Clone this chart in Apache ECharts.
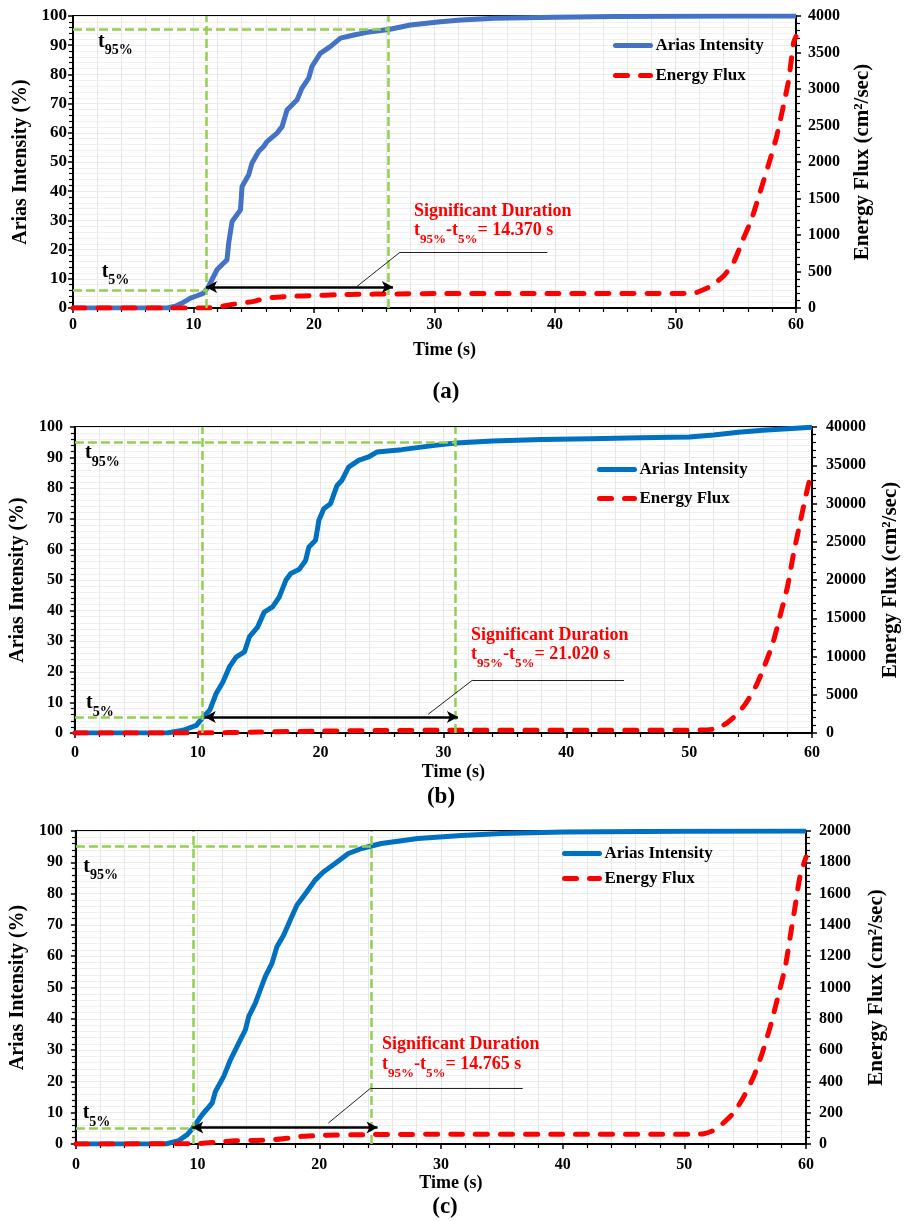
<!DOCTYPE html>
<html><head><meta charset="utf-8">
<script src="https://cdn.jsdelivr.net/npm/echarts@6/dist/echarts.min.js"></script>
<style>html,body{margin:0;padding:0;background:#fff}#c{width:909px;height:1221px}</style>
</head><body><div id="c"></div>
<script>
// ---------- DATA ----------
// Panel (a)
const tA  = [0, 7.8, 8.5, 9.05, 9.75, 10.3, 10.84, 11.25, 11.95, 12.4, 12.78, 12.92, 13.2, 13.9, 14.03, 14.58, 14.85, 15.4, 15.82, 16.1, 16.93, 17.35, 17.76, 18.6, 19.0, 19.56, 19.83, 20.52, 21.35, 22.2, 23.3, 24.4, 26.2, 28.0, 30.5, 32.2, 35, 40, 45, 50, 55, 60];
const aiA = [0, 0, 0.6, 1.7, 3.4, 4.2, 5.1, 7.4, 13.1, 15.0, 16.5, 22.2, 29.6, 33.6, 41.6, 45.6, 49.6, 53.6, 55.3, 57.0, 59.9, 62.1, 67.8, 71.3, 75.3, 78.7, 82.7, 87.2, 89.5, 92.4, 93.5, 94.4, 95.4, 96.9, 98.0, 98.6, 99.2, 99.6, 99.8, 99.9, 100, 100];
const tEA = [0, 11.0, 12.0, 13.07, 15.0, 16.1, 18.1, 20.0, 21.9, 24.0, 26.2, 30, 40, 51.5, 52.0, 52.9, 53.97, 54.8, 55.6, 56.3, 57.0, 57.85, 58.4, 58.95, 59.4, 59.8, 60];
const efA = [0, 0, 10, 45, 91, 137, 160, 169, 182, 188, 192, 197, 197, 200, 229, 297, 434, 617, 937, 1211, 1577, 2034, 2354, 2766, 3131, 3634, 3720];
// Panel (b)
const tB  = [0, 7.5, 8.81, 9.89, 10.43, 10.97, 11.5, 12.05, 12.58, 13.12, 13.8, 14.2, 14.87, 15.41, 16.09, 16.63, 17.17, 17.57, 18.24, 18.78, 19.05, 19.59, 19.86, 20.26, 20.8, 21.34, 21.74, 22.28, 23.09, 23.9, 24.57, 26.6, 29.3, 31.0, 34, 38, 42, 46, 50, 52, 54, 56, 58, 60];
const aiB = [0, 0, 0.9, 2.5, 5.2, 7.4, 12.9, 16.7, 21.6, 24.8, 26.5, 31.4, 34.6, 39.5, 41.2, 44.4, 49.9, 52.1, 53.4, 56.4, 60.8, 63.0, 69.5, 73.3, 74.9, 80.9, 82.6, 86.9, 89.1, 90.2, 91.8, 92.6, 94.0, 94.8, 95.4, 95.9, 96.2, 96.5, 96.7, 97.4, 98.3, 98.9, 99.4, 99.9];
const tEB = [0, 10, 15, 20, 25, 30, 40, 51.1, 52.2, 53.0, 53.8, 54.6, 55.4, 56.1, 56.8, 57.45, 58.0, 58.5, 59.07, 59.6, 60];
const efB = [0, 0, 120, 250, 330, 350, 360, 380, 570, 1230, 2310, 3840, 6010, 8630, 11690, 15610, 19090, 23450, 27800, 31720, 34340];
// Panel (c)
const tC  = [0, 7.37, 8.46, 9.15, 9.61, 10.38, 11.2, 11.47, 12.15, 12.7, 13.38, 13.93, 14.2, 14.75, 15.15, 15.56, 16.11, 16.52, 17.07, 17.61, 18.16, 18.98, 19.66, 20.34, 21.3, 22.39, 23.48, 25.1, 28.1, 31.7, 35, 40, 50, 60];
const aiC = [0, 0, 1.1, 3.0, 5.1, 9.4, 13.1, 16.8, 21.6, 26.9, 32.2, 36.5, 40.7, 45.0, 49.2, 53.5, 57.7, 63.0, 66.7, 71.5, 76.3, 80.6, 84.3, 86.9, 89.6, 92.8, 94.4, 96.0, 97.6, 98.6, 99.2, 99.7, 99.9, 100];
const tEC = [0, 10, 11.74, 13.1, 14.75, 16.4, 17.5, 18.6, 20.2, 24.0, 31.7, 40, 50.5, 51.6, 52.4, 53.2, 54.05, 54.9, 55.7, 56.4, 57.06, 57.7, 58.3, 58.7, 59.1, 59.5, 60];
const efC = [0, 3, 13, 21, 23, 28, 38, 49, 55, 60, 62, 62, 62, 66, 87, 134, 198, 304, 431, 580, 750, 942, 1133, 1324, 1515, 1707, 1834];

// Reference markers (t5%, t95%) and annotation values
const t5s   = [11.04, 10.35, 9.61];
const t95s  = [26.17, 30.96, 24.24];
const h5s   = [6.2, 5.0, 5.0];
const h95s  = [95.3, 95.0, 95.0];
const arrowY = [7.2, 5.2, 5.3];
const arrowX = [[11.04, 26.55], [10.57, 31.18], [9.56, 24.79]];
const leaders = [
  [[23.54, 7.3], [27.14, 19.1], [39.36, 19.1]],
  [[28.75, 6.1], [32.34, 17.2], [44.7, 17.2]],
  [[20.75, 6.7], [24.24, 17.9], [36.72, 17.9]]
];
const durations = ['14.370', '21.020', '14.765'];
const panelLabels = ['(a)', '(b)', '(c)'];
const fluxMax = [4000, 40000, 2000];
const fluxStep = [500, 5000, 200];
const xTicks = [0, 60, 10];
const aiTicks = [0, 100, 10];

// ---------- LAYOUT ----------
const SERIF = '"Liberation Serif","Times New Roman",serif';
const grids = [
  {left: 73, top: 16, width: 723, height: 292},
  {left: 71, top: 427, width: 742, height: 306},
  {left: 73, top: 831, width: 733, height: 313}
];
const blue = ['#4472C4', '#0070C0', '#0070C0'];
const xNameGap = [33, 30, 29];
const xLabMargin = [9, 12, 13];
const yLNameGap = [39, 40, 39];
const yRNameGap = [56, 68, 60];
const yLLabMargin = [6, 12, 13];
const yRLabMargin = [12, 14, 13];
const legendPos = [{left: 613, top: 37, gap: 13}, {left: 597, top: 461, gap: 12}, {left: 562, top: 845, gap: 8}];
const pairs = (t, v) => t.map((x, i) => [x, v[i]]);
const AIs = [pairs(tA, aiA), pairs(tB, aiB), pairs(tC, aiC)];
const EFs = [pairs(tEA, efA), pairs(tEB, efB), pairs(tEC, efC)];

const labelStyle = {fontFamily: SERIF, fontWeight: 'bold', color: '#000', fontSize: 16};
const nameStyle = {fontFamily: SERIF, fontWeight: 'bold', color: '#000', fontSize: 20};

const xAxes = [], yAxes = [], series = [], legends = [], graphics = [];
for (let i = 0; i < 3; i++) {
  xAxes.push({
    type: 'value', gridIndex: i, min: xTicks[0], max: xTicks[1], interval: xTicks[2],
    name: 'Time (s)', nameLocation: 'middle', nameGap: xNameGap[i],
    nameTextStyle: Object.assign({}, nameStyle, {fontSize: 18, padding: [0, 0, 0, 20]}),
    axisLine: {show: true, onZero: false, lineStyle: {color: '#000', width: 2}},
    axisTick: {show: true, length: 5, lineStyle: {color: '#000', width: 1.5}},
    minorTick: {show: true, splitNumber: 5, length: 4, lineStyle: {color: '#000', width: 1.2}},
    axisLabel: Object.assign({margin: xLabMargin[i]}, labelStyle),
    splitLine: {show: true, lineStyle: {color: '#E4E4E4', width: 1}},
    minorSplitLine: {show: true, lineStyle: {color: '#E8E8E8', width: 1}}
  });
  yAxes.push({
    type: 'value', gridIndex: i, position: 'left', min: aiTicks[0], max: aiTicks[1], interval: aiTicks[2],
    name: 'Arias Intensity (%)', nameLocation: 'middle', nameGap: yLNameGap[i], nameRotate: 90,
    nameTextStyle: nameStyle,
    axisLine: {show: true, lineStyle: {color: '#000', width: 2}},
    axisTick: {show: true, length: 5, lineStyle: {color: '#000', width: 1.5}},
    minorTick: {show: true, splitNumber: 5, length: 4, lineStyle: {color: '#000', width: 1.2}},
    axisLabel: Object.assign({margin: yLLabMargin[i]}, labelStyle, i === 0 ? {fontSize: 17} : {}),
    splitLine: {show: true, lineStyle: {color: '#EBEBEB', width: 1}},
    minorSplitLine: {show: true, lineStyle: {color: '#F0F0F0', width: 1}}
  });
  yAxes.push({
    type: 'value', gridIndex: i, position: 'right', min: 0, max: fluxMax[i], interval: fluxStep[i],
    name: 'Energy Flux (cm²/sec)', nameLocation: 'middle', nameGap: yRNameGap[i], nameRotate: 90,
    nameTextStyle: Object.assign({}, nameStyle, {fontSize: 21}),
    axisLine: {show: true, lineStyle: {color: '#000', width: 2}},
    axisTick: {show: true, length: 5, lineStyle: {color: '#000', width: 1.5}},
    minorTick: {show: true, splitNumber: 5, length: 4, lineStyle: {color: '#000', width: 1.2}},
    axisLabel: Object.assign({margin: yRLabMargin[i], formatter: v => String(v)}, labelStyle),
    splitLine: {show: false}
  });
  series.push({
    name: 'AI' + i, type: 'line', xAxisIndex: i, yAxisIndex: 2 * i, data: AIs[i],
    symbol: 'none', z: 3, color: blue[i], itemStyle: {color: blue[i]},
    lineStyle: {color: blue[i], width: 5}
  });
  series.push({
    name: 'EF' + i, type: 'line', xAxisIndex: i, yAxisIndex: 2 * i + 1, data: EFs[i],
    symbol: 'none', z: 4, smooth: 0.2, color: '#FF0000', itemStyle: {color: '#FF0000'},
    lineStyle: {color: '#FF0000', width: 5, type: [12, 13], cap: 'round'}
  });
  // green t5 / t95 guide lines
  series.push({
    name: 'guides' + i, type: 'line', xAxisIndex: i, yAxisIndex: 2 * i, data: [], z: 5,
    markLine: {
      silent: true, symbol: ['none', 'none'], label: {show: false}, animation: false,
      lineStyle: {color: '#92D050', type: [9, 4], width: 2.5},
      data: [
        [{coord: [0, h95s[i]]}, {coord: [t95s[i], h95s[i]]}],
        [{coord: [0, h5s[i]]}, {coord: [t5s[i], h5s[i]]}],
        [{coord: [t5s[i], 0]}, {coord: [t5s[i], 100]}],
        [{coord: [t95s[i], 0]}, {coord: [t95s[i], 100]}]
      ]
    }
  });
  // double arrow
  series.push({
    name: 'arrow' + i, type: 'line', xAxisIndex: i, yAxisIndex: 2 * i, data: [], z: 6,
    markLine: {
      silent: true, symbol: ['arrow', 'arrow'], symbolSize: [9, 11], label: {show: false}, animation: false,
      lineStyle: {color: '#000', type: 'solid', width: 2.5},
      data: [[{coord: [arrowX[i][0], arrowY[i]]}, {coord: [arrowX[i][1], arrowY[i]]}]]
    }
  });
  // leader line
  const L = leaders[i];
  series.push({
    name: 'leader' + i, type: 'line', xAxisIndex: i, yAxisIndex: 2 * i, data: [], z: 6,
    markLine: {
      silent: true, symbol: ['none', 'none'], label: {show: false}, animation: false,
      lineStyle: {color: '#222', type: 'solid', width: 1},
      data: [[{coord: L[0]}, {coord: L[1]}], [{coord: L[1]}, {coord: L[2]}]]
    }
  });
  legends.push({
    data: ['AI' + i, 'EF' + i], orient: 'vertical', left: legendPos[i].left, top: legendPos[i].top,
    itemWidth: 35, itemHeight: 10, itemGap: legendPos[i].gap, padding: 0, selectedMode: false,
    itemStyle: {opacity: 0},
    lineStyle: {width: 5, cap: 'round'},
    formatter: n => n.indexOf('AI') === 0 ? 'Arias Intensity' : 'Energy Flux',
    textStyle: {fontFamily: SERIF, fontWeight: 'bold', fontSize: 17, color: '#000'}
  });
}

// ---------- TEXT ANNOTATIONS ----------
function tText(x, top, F, L, f, p, color, text) {
  const base = {fontFamily: SERIF, fontWeight: 'bold', fill: color};
  return {
    type: 'text', x: x, y: top, silent: true, z: 100,
    style: Object.assign({
      text: text, fontSize: F, align: 'left', verticalAlign: 'top',
      rich: {
        m: Object.assign({fontSize: F, lineHeight: L, verticalAlign: 'top'}, base),
        s: Object.assign({fontSize: f, lineHeight: f, padding: [p, 0, 0, 0], verticalAlign: 'top'}, base)
      }
    }, base)
  };
}
const t95Pos = [[98, 31.6], [85, 443.3], [83.3, 856.6]];
const t5Pos  = [[101.7, 261.6], [86, 693.3], [82.7, 1103.3]];
const sigPos = [[414, 211, 221], [471, 635, 645], [382, 1044, 1055]];
const panelPos = [[446, 392], [441, 797], [445, 1207]];
for (let i = 0; i < 3; i++) {
  graphics.push(tText(t95Pos[i][0], t95Pos[i][1], 20, 24, 14, 12, '#000', '{m|t}{s|95%}'));
  graphics.push(tText(t5Pos[i][0], t5Pos[i][1], 20, 24, 14, 12, '#000', '{m|t}{s|5%}'));
  graphics.push({
    type: 'text', x: sigPos[i][0], y: sigPos[i][1], silent: true, z: 100,
    style: {text: 'Significant Duration', fontFamily: SERIF, fontWeight: 'bold', fontSize: 18,
            fill: '#FF0000', align: 'left', verticalAlign: 'middle'}
  });
  graphics.push(tText(sigPos[i][0], sigPos[i][2], 18, 22, 13, 12, '#FF0000',
    '{m|t}{s|95%}{m|-t}{s|5%}{m|= ' + durations[i] + ' s}'));
  graphics.push({
    type: 'text', x: panelPos[i][0], y: panelPos[i][1], silent: true, z: 100,
    style: {text: panelLabels[i], fontFamily: SERIF, fontWeight: 'bold', fontSize: 23,
            fill: '#000', align: 'center', verticalAlign: 'middle'}
  });
}

const chart = echarts.init(document.getElementById('c'), null, {renderer: 'canvas'});
chart.setOption({
  animation: false,
  backgroundColor: '#fff',
  textStyle: {fontFamily: SERIF},
  grid: grids.map(g => Object.assign({show: true, borderColor: '#000', borderWidth: 2, backgroundColor: 'transparent', containLabel: false}, g)),
  xAxis: xAxes,
  yAxis: yAxes,
  legend: legends,
  series: series,
  graphic: graphics
});
</script></body></html>
